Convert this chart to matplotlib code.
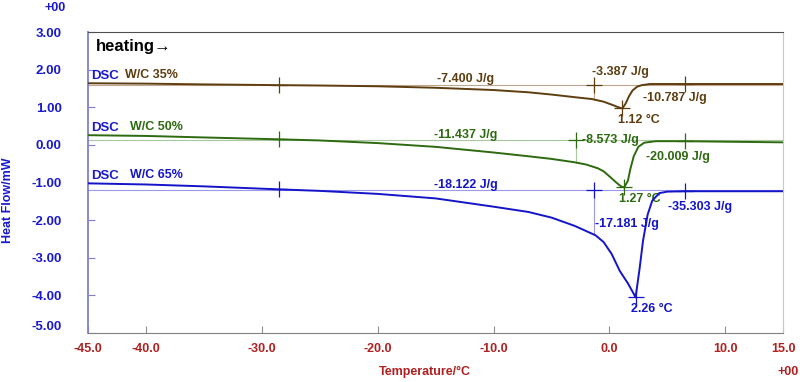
import matplotlib.pyplot as plt
import numpy as np

import matplotlib as mpl
import matplotlib.transforms as mtransforms

mpl.rcParams['font.family'] = ['Liberation Sans', 'DejaVu Sans']
mpl.rcParams['font.weight'] = 'bold'

# --- data ---
temp_35 = [-45, -40, -35, -28.5, -25, -20, -15, -10, -7, -5, -3, -1.5, -0.5, 0.3, 0.8, 1.12,
           1.4, 1.7, 2.0, 2.4, 2.8, 3.5, 6.5, 15]
flow_35 = [1.64, 1.63, 1.61, 1.59, 1.58, 1.56, 1.52, 1.46, 1.40, 1.34, 1.27, 1.22, 1.15, 1.06, 1.00, 0.97,
           1.10, 1.30, 1.45, 1.55, 1.59, 1.62, 1.62, 1.62]

temp_50 = [-45, -40, -35, -28.5, -25, -20, -15, -10, -7, -5, -3, -2, -1, -0.5, 0.1, 0.6, 1.0, 1.27,
           1.6, 1.8, 2.1, 2.5, 3.0, 4.0, 6.5, 12, 15]
flow_50 = [0.26, 0.24, 0.20, 0.15, 0.12, 0.05, -0.05, -0.20, -0.30, -0.37, -0.46, -0.52, -0.62, -0.70, -0.86, -1.00, -1.10, -1.13,
           -0.95, -0.65, -0.30, -0.05, 0.06, 0.10, 0.10, 0.08, 0.07]

temp_65 = [-45, -40, -35, -28.5, -25, -20, -15, -10, -7, -5, -3, -1.2, -0.5, 0.2, 0.9, 1.6, 2.0, 2.26,
           2.6, 2.9, 3.3, 3.7, 4.3, 5.0, 6.5, 15]
flow_65 = [-1.02, -1.05, -1.10, -1.18, -1.22, -1.30, -1.42, -1.64, -1.78, -1.93, -2.15, -2.40, -2.58, -2.90, -3.35, -3.68, -3.90, -4.05,
           -3.30, -2.55, -1.85, -1.48, -1.28, -1.24, -1.23, -1.23]

series = ['W/C 35%', 'W/C 50%', 'W/C 65%']
peak_temps = [1.12, 1.27, 2.26]
# integration limits (start, split, end) in deg C
limits = [(-28.5, -1.3, 6.5), (-28.5, -2.9, 6.5), (-28.5, -1.3, 6.5)]
enthalpy_total = ['-7.400 J/g', '-11.437 J/g', '-18.122 J/g']
enthalpy_part1 = ['-3.387 J/g', '-8.573 J/g', '-17.181 J/g']
enthalpy_part2 = ['-10.787 J/g', '-20.009 J/g', '-35.303 J/g']

xticks = [-45, -40, -30, -20, -10, 0, 10, 15]
yticks = [3, 2, 1, 0, -1, -2, -3, -4, -5]

colors = ['#5e3e10', '#2d6a10', '#1414c8']
base_colors = ['#c0a890', '#a8c8a0', '#9a9ae8']
blue_txt = '#1a1acc'
red_txt = '#b02020'

fig = plt.figure(figsize=(8, 3.82), dpi=100)
ax = fig.add_axes([0.11, 0.128, 0.869, 0.788])

temps = [temp_35, temp_50, temp_65]
flows = [flow_35, flow_50, flow_65]

for i in range(3):
    t = np.array(temps[i])
    f = np.array(flows[i])
    t0, t1, t2 = limits[i]
    y0 = np.interp(t0, t, f)
    y2 = np.interp(t2, t, f)
    base = (y0 + y2) / 2
    # baseline and split line
    ax.plot([-45, 15], [base, base], color=base_colors[i], lw=0.8, zorder=1)
    ysplit = np.interp(t1, t, f)
    ax.plot([t1, t1], [base, ysplit], color=base_colors[i], lw=0.8, zorder=1)
    ax.plot(t, f, color=colors[i], lw=1.4, zorder=3)
    ax.plot([t0, t1, t2], [y0, base, y2], '+', color=colors[i], ms=11, mew=0.9, zorder=4)
    ypk = np.interp(peak_temps[i], t, f)
    ax.plot([peak_temps[i]], [ypk], '+', color=colors[i], ms=11, mew=0.9, zorder=4)

    ax.text(-44.7, flows[i][0] + 0.03, 'DSC', color=blue_txt, fontsize=9.5, va='bottom', ha='left')
    ax.text(-41.8 if i == 0 else -41.4, flows[i][0] + 0.06, series[i], color=colors[i], fontsize=9,
            va='bottom', ha='left')
    ax.text(-12.4, base - 0.01, enthalpy_total[i], color=colors[i], fontsize=9, ha='center', va='bottom')
    ax.text(peak_temps[i] - 0.4, ypk - 0.15, '%.2f °C' % peak_temps[i], color=colors[i], fontsize=9,
            ha='left', va='top')

# split / end labels
ax.text(-1.5, 1.77, enthalpy_part1[0], color=colors[0], fontsize=9, ha='left', va='bottom')
ax.text(2.9, 1.25, enthalpy_part2[0], color=colors[0], fontsize=9, ha='left', va='center')
ax.text(-2.4, 0.14, enthalpy_part1[1], color=colors[1], fontsize=9, ha='left', va='center')
ax.text(3.2, -0.31, enthalpy_part2[1], color=colors[1], fontsize=9, ha='left', va='center')
ax.text(-1.2, -2.10, enthalpy_part1[2], color=colors[2], fontsize=9, ha='left', va='center')
ax.text(5.1, -1.65, enthalpy_part2[2], color=colors[2], fontsize=9, ha='left', va='center')

ax.text(-44.3, 2.62, 'heating→', color='black', fontsize=12, ha='left', va='center')

ax.set_xlim(-45, 15)
ax.set_ylim(-5, 3)
ax.set_xticks(xticks)
ax.set_xticklabels(['%.1f' % v for v in xticks])
ax.set_yticks(yticks)
ax.set_yticklabels(['%.2f' % v for v in yticks])
ax.tick_params(axis='x', direction='in', length=5, width=0.8, color='#909090', pad=7,
               labelcolor=red_txt, labelsize=9)
ax.tick_params(axis='y', direction='in', length=5, width=0.8, color='#8080d0', pad=19,
               labelcolor=blue_txt, labelsize=9.5)
for lbl in ax.get_yticklabels():
    lbl.set_fontweight('bold')
for lbl in ax.get_xticklabels():
    lbl.set_fontweight('bold')
# the lowest y label sits a little above its tick, clear of the x labels
low = ax.yaxis.get_major_ticks()[-1].label1
low.set_transform(low.get_transform() + mtransforms.ScaledTranslation(0, 8 / 100, fig.dpi_scale_trans))

ax.spines['left'].set_color('#8080d0')
ax.spines['left'].set_linewidth(1.3)
ax.spines['bottom'].set_color('#808080')
ax.spines['top'].set_color('#505050')
ax.spines['right'].set_color('#c8c8c8')

fig.text(0.01, 0.475, 'Heat Flow/mW', color=blue_txt, fontsize=9, rotation=90, ha='center', va='center')
fig.text(0.531, 0.026, 'Temperature/°C', color=red_txt, fontsize=9, ha='center', va='center')
fig.text(0.069, 0.978, '+00', color=blue_txt, fontsize=9, ha='center', va='center')
fig.text(0.985, 0.026, '+00', color=red_txt, fontsize=9, ha='center', va='center')

fig.savefig('out.png', dpi=100)
